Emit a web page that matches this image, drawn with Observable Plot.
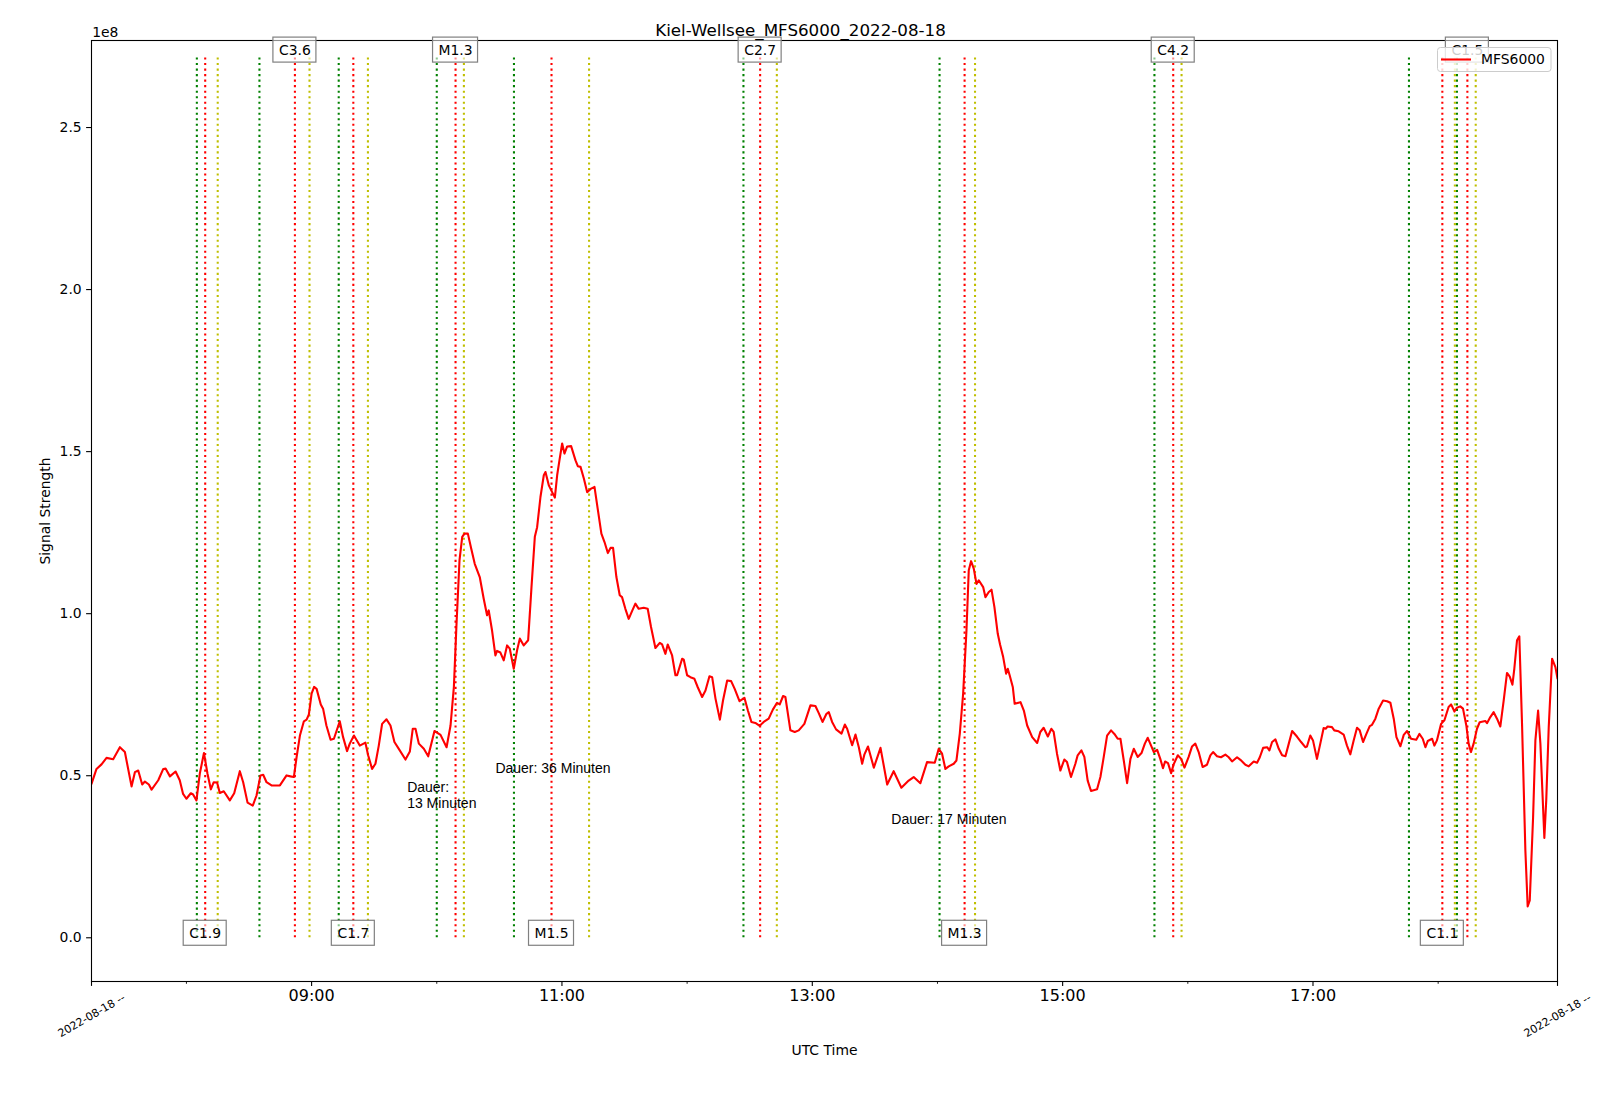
<!DOCTYPE html>
<html>
<head>
<meta charset="utf-8">
<script src="https://cdn.jsdelivr.net/npm/d3@7"></script>
<script src="https://cdn.jsdelivr.net/npm/@observablehq/plot@0.6"></script>
<style>
  html, body { margin: 0; padding: 0; background: white; }
</style>
</head>
<body>
<div id="chart"></div>
<script>
// ---- data ----
const titleText = "Kiel-Wellsee_MFS6000_2022-08-18";
const seriesName = "MFS6000";
const xLabel = "UTC Time";
const yLabel = "Signal Strength";
const dayLabel = "2022-08-18 --";

// signal: minutes after 00:00 UTC and value in units of 1e8
const signalMinutes = [
434.5,436.9,439.3,441.7,444.9,448.1,450.5,453.7,455.3,456.9,458.8,460.1,462.0,463.3,466.5,468.9,470.0,472.1,474.8,476.8,
478.4,480.0,482.1,483.2,484.8,486.4,488.4,490.1,491.7,493.1,494.7,496.0,497.9,500.8,502.9,505.6,507.2,509.3,511.8,513.6,
515.5,516.8,518.4,520.8,524.8,528.0,529.9,531.5,532.8,534.4,536.3,537.6,538.7,540.0,541.2,542.4,544.4,545.5,547.1,549.1,
550.7,553.5,555.1,557.0,558.3,560.3,563.1,565.8,567.1,569.0,570.6,572.2,573.8,575.9,577.8,579.7,581.8,585.0,587.1,588.5,
589.8,591.4,593.8,595.9,598.9,601.8,604.7,606.6,608.2,609.4,610.9,612.2,613.3,614.9,616.5,618.2,620.6,622.5,624.1,624.9,
626.5,628.1,628.9,630.5,632.1,633.7,635.0,636.9,638.5,639.8,641.7,643.8,645.4,647.0,648.1,649.7,651.3,652.1,653.7,655.3,
656.6,657.7,658.8,660.1,661.2,662.5,664.4,666.5,667.6,668.9,670.5,672.1,674.0,675.6,677.2,678.9,680.4,682.0,683.3,684.5,
686.1,687.7,688.8,690.4,692.0,693.6,695.2,696.8,699.2,701.1,702.7,704.8,706.9,708.0,709.6,710.7,712.8,714.4,715.2,717.6,
718.4,720.0,721.6,723.5,725.1,727.2,728.8,730.7,732.0,733.6,735.7,737.2,739.2,741.1,742.8,745.1,747.5,749.1,750.8,752.7,
754.8,756.7,759.1,761.1,763.1,764.4,766.0,767.1,769.5,771.6,773.5,776.2,779.1,781.5,783.1,784.9,786.8,787.9,789.5,791.4,
794.0,795.6,796.7,799.1,800.7,802.3,803.9,805.0,806.7,809.5,812.7,815.9,819.0,822.7,826.2,828.6,831.8,835.0,838.7,840.6,
842.2,843.8,845.4,847.8,849.1,850.7,852.3,853.9,855.0,856.1,857.4,858.7,859.8,861.9,863.0,864.6,865.9,867.3,868.9,870.0,
871.5,872.9,873.7,874.6,876.1,877.0,879.8,881.4,883.0,885.4,887.8,889.3,890.9,892.9,894.6,895.7,897.3,898.9,900.8,902.1,
904.0,906.1,907.2,909.0,910.4,912.0,913.6,916.5,918.1,919.7,921.3,923.2,924.8,926.4,927.7,929.3,930.9,932.5,934.1,936.0,
937.8,939.4,940.8,942.4,943.7,945.3,946.8,948.1,949.1,950.5,952.0,953.2,955.2,956.8,958.4,960.4,962.0,963.6,965.2,967.1,
969.2,970.8,972.1,974.0,975.9,978.0,979.6,981.2,983.6,985.2,987.6,989.2,991.6,993.2,994.5,996.1,998.0,999.1,1000.4,1002.0,
1003.6,1005.2,1006.8,1008.4,1010.0,1012.3,1014.3,1016.3,1017.1,1018.7,1020.0,1021.9,1023.5,1025.1,1026.2,1027.0,1029.1,1030.2,1032.3,1034.7,
1036.3,1037.9,1039.5,1041.1,1042.4,1044.0,1045.6,1047.2,1048.3,1049.9,1051.5,1053.6,1055.5,1057.1,1058.7,1060.0,1061.9,1063.5,1065.1,1067.0,
1069.5,1071.0,1072.6,1073.9,1075.0,1077.1,1078.2,1079.4,1081.4,1083.0,1085.0,1086.2,1087.8,1089.0,1090.6,1091.9,1093.5,1094.6,1095.7,1097.0,
1098.6,1099.9,1102.6,1103.4,1105.0,1106.6,1108.2,1109.8,1111.4,1113.0,1114.3,1115.6,1116.5,1117.8,1118.9,1120.2,1121.8,1122.9,1123.9,1125.5,
1126.6,1127.9,1129.0,1130.9,1131.8,1133.0,1134.6,1136.2,1137.2
];
const signalValues = [
0.475,0.521,0.535,0.555,0.551,0.588,0.573,0.467,0.511,0.516,0.473,0.482,0.473,0.457,0.486,0.521,0.522,0.498,0.513,0.486,
0.444,0.429,0.446,0.442,0.424,0.506,0.570,0.506,0.458,0.480,0.479,0.447,0.452,0.424,0.446,0.514,0.480,0.417,0.408,0.439,
0.501,0.503,0.480,0.470,0.470,0.501,0.498,0.496,0.557,0.624,0.668,0.673,0.689,0.753,0.774,0.768,0.720,0.707,0.655,0.611,
0.614,0.668,0.619,0.576,0.599,0.624,0.593,0.602,0.563,0.521,0.537,0.593,0.660,0.674,0.655,0.604,0.583,0.550,0.575,0.645,
0.645,0.599,0.583,0.560,0.638,0.626,0.588,0.655,0.774,0.959,1.165,1.237,1.247,1.247,1.201,1.154,1.113,1.046,0.995,1.010,
0.948,0.871,0.885,0.880,0.856,0.902,0.892,0.830,0.887,0.923,0.902,0.918,1.082,1.237,1.267,1.360,1.427,1.437,1.396,1.375,
1.358,1.427,1.473,1.525,1.494,1.516,1.517,1.473,1.455,1.453,1.417,1.375,1.386,1.391,1.321,1.247,1.221,1.187,1.203,1.203,
1.113,1.057,1.051,1.015,0.984,1.008,1.031,1.015,1.018,1.015,0.959,0.894,0.910,0.905,0.876,0.905,0.871,0.810,0.810,0.861,
0.858,0.810,0.804,0.799,0.773,0.743,0.763,0.807,0.804,0.738,0.673,0.732,0.794,0.792,0.768,0.730,0.740,0.702,0.666,0.663,
0.654,0.666,0.676,0.704,0.725,0.720,0.746,0.743,0.640,0.635,0.640,0.660,0.717,0.715,0.693,0.666,0.691,0.696,0.666,0.643,
0.630,0.658,0.645,0.594,0.627,0.588,0.537,0.566,0.590,0.525,0.586,0.473,0.514,0.463,0.485,0.496,0.477,0.542,0.540,0.583,
0.568,0.521,0.529,0.537,0.547,0.630,0.753,0.948,1.134,1.162,1.139,1.092,1.103,1.082,1.051,1.067,1.074,1.020,0.938,0.905,
0.866,0.815,0.830,0.810,0.774,0.722,0.727,0.701,0.655,0.619,0.601,0.635,0.648,0.621,0.645,0.635,0.568,0.516,0.550,0.542,
0.496,0.537,0.563,0.578,0.558,0.485,0.453,0.458,0.496,0.558,0.624,0.640,0.629,0.614,0.614,0.547,0.477,0.552,0.583,0.558,
0.570,0.599,0.617,0.593,0.573,0.580,0.552,0.523,0.544,0.539,0.508,0.535,0.563,0.552,0.525,0.558,0.590,0.599,0.573,0.527,
0.534,0.563,0.573,0.560,0.557,0.565,0.557,0.544,0.557,0.549,0.534,0.529,0.544,0.540,0.557,0.586,0.588,0.578,0.604,0.612,
0.583,0.563,0.560,0.599,0.638,0.621,0.604,0.588,0.590,0.624,0.609,0.552,0.599,0.647,0.645,0.652,0.650,0.640,0.637,0.627,
0.593,0.566,0.609,0.648,0.640,0.604,0.629,0.653,0.657,0.676,0.707,0.732,0.730,0.725,0.676,0.619,0.591,0.626,0.638,0.614,
0.611,0.629,0.614,0.588,0.607,0.614,0.593,0.609,0.660,0.671,0.712,0.720,0.698,0.710,0.714,0.707,0.655,0.599,0.573,0.599,
0.645,0.665,0.669,0.662,0.681,0.696,0.676,0.652,0.732,0.817,0.806,0.781,0.830,0.918,0.930,0.660,0.269,0.097,0.115,0.372,
0.609,0.701,0.599,0.308,0.424,0.650,0.861,0.835,0.800
];
const signalScale = 1e8;

// flares (GOES events): class, start, peak, end (UTC)
const flareClass = ["C1.9","C3.6","C1.7","M1.3","M1.5","C2.7","M1.3","C4.2","C1.1","C1.5"];
const flareStart = ["08:05","08:35","09:13","10:00","10:37","12:27","14:01","15:44","17:46","18:09"];
const flarePeak  = ["08:09","08:52","09:20","10:09","10:55","12:35","14:13","15:53","18:02","18:14"];
const flareEnd   = ["08:15","08:59","09:27","10:13","11:13","12:43","14:18","15:57","18:08","18:18"];
const flareLineTop = 2.716e8;
const labelTopLevel = 2.725e8;
const labelBottomLevel = 0;

// duration notes
const noteText = ["Dauer:\n13 Minuten", "Dauer: 36 Minuten", "Dauer: 17 Minuten"];
const noteTime = ["09:45.8", "10:28.1", "13:37.9"];
const noteLevel = [0.400e8, 0.508e8, 0.352e8];

// axes
const xDomainMinutes = [434.5, 1137.2];
const yDomain = [-0.1349e8, 2.7685e8];
const majorTickTimes = ["09:00","11:00","13:00","15:00","17:00"];
const minorTickTimes = ["08:00","10:00","12:00","14:00","16:00","18:00"];
const yTicks = [0, 0.5e8, 1.0e8, 1.5e8, 2.0e8, 2.5e8];

// ---- helpers ----
const DAY = Date.UTC(2022, 7, 18);
const atMin = m => new Date(DAY + m * 60000);
const atHM = s => { const [h, m] = s.split(":").map(Number); return atMin(h * 60 + m); };

const signal = signalMinutes.map((m, i) => ({t: atMin(m), v: signalValues[i] * signalScale}));
const flares = flareClass.map((c, i) => ({
  cls: c, start: atHM(flareStart[i]), peak: atHM(flarePeak[i]), end: atHM(flareEnd[i]),
  level: i % 2 === 0 ? labelBottomLevel : labelTopLevel
}));
const notes = noteText.map((s, i) => ({text: s, t: atHM(noteTime[i]), v: noteLevel[i]}));
const xDomain = xDomainMinutes.map(atMin);

const dotted = {y1: 0, y2: flareLineTop, strokeWidth: 2.08, strokeDasharray: "2.08,3.44"};

const chart = Plot.plot({
  width: 1600,
  height: 1102,
  marginLeft: 91,
  marginRight: 43,
  marginTop: 40,
  marginBottom: 121,
  style: {fontFamily: "DejaVu Sans", fontSize: "13.9px", color: "black", background: "white", overflow: "visible"},
  x: {type: "utc", domain: xDomain},
  y: {domain: yDomain},
  marks: [
    Plot.ruleX(flares, {x: "start", stroke: "#008000", ...dotted}),
    Plot.ruleX(flares, {x: "peak", stroke: "#ff0000", ...dotted}),
    Plot.ruleX(flares, {x: "end", stroke: "#bfbf00", ...dotted}),
    Plot.line(signal, {x: "t", y: "v", stroke: "#ff0000", strokeWidth: 2.1, clip: true}),
    Plot.frame({stroke: "black", strokeWidth: 1.1}),
    Plot.axisY({ticks: yTicks, tickFormat: d => (d / 1e8).toFixed(1), tickSize: 4.9, tickPadding: 4.9, label: null, strokeWidth: 1.1}),
    Plot.axisX({ticks: majorTickTimes.map(atHM), tickFormat: d3.utcFormat("%H:%M"), tickSize: 4.9, tickPadding: 3, label: null, fontSize: 16, strokeWidth: 1.1}),
    Plot.axisX({ticks: minorTickTimes.map(atHM), tickFormat: () => "", tickSize: 2.8, label: null, strokeWidth: 0.9}),
    Plot.axisX({ticks: xDomain, tickFormat: () => "", tickSize: 4.9, label: null, strokeWidth: 1.1}),
    Plot.text(xDomain, {x: d => d, frameAnchor: "bottom", dy: 34, rotate: -30, text: () => dayLabel,
      textAnchor: "middle", lineAnchor: "middle", fontSize: 11}),
    Plot.rect(flares.filter(d => d.cls[0] === "C"), {x1: "peak", x2: "peak", y1: "level", y2: "level",
      insetLeft: -21.5, insetRight: -21.5, insetTop: -17, insetBottom: -8,
      fill: "white", fillOpacity: 0.55, stroke: "#808080", strokeWidth: 1.2}),
    Plot.rect(flares.filter(d => d.cls[0] === "M"), {x1: "peak", x2: "peak", y1: "level", y2: "level",
      insetLeft: -22.5, insetRight: -22.5, insetTop: -17, insetBottom: -8,
      fill: "white", fillOpacity: 0.55, stroke: "#808080", strokeWidth: 1.2}),
    Plot.text(flares, {x: "peak", y: "level", text: "cls", lineAnchor: "bottom", fill: "black", fontSize: 13.9}),
    Plot.text(notes, {x: "t", y: "v", text: "text", textAnchor: "start", lineAnchor: "bottom",
      fontFamily: "Liberation Sans, Arial, sans-serif", fontSize: 14, lineHeight: 1.14, fill: "black"}),
    Plot.text([titleText], {frameAnchor: "top", dx: -24, dy: -5, textAnchor: "middle", lineAnchor: "bottom", fontSize: 16.7}),
    Plot.text(["1e8"], {frameAnchor: "top-left", textAnchor: "start", lineAnchor: "bottom", dx: 0.7, dy: -3.3}),
    Plot.text([xLabel], {frameAnchor: "bottom", textAnchor: "middle", lineAnchor: "bottom", dy: 73.6}),
    Plot.text([yLabel], {frameAnchor: "left", rotate: -90, dx: -46, textAnchor: "middle", lineAnchor: "middle"})
  ]
});

document.getElementById("chart").appendChild(chart);

// legend (upper right, matplotlib style)
const svg = d3.select(chart);
const lg = svg.append("g");
lg.append("rect").attr("x", 1437.5).attr("y", 47.5).attr("width", 113.5).attr("height", 24).attr("rx", 3)
  .attr("fill", "white").attr("fill-opacity", 0.8).attr("stroke", "#cccccc").attr("stroke-width", 1);
lg.append("line").attr("x1", 1441).attr("x2", 1471).attr("y1", 59.5).attr("y2", 59.5)
  .attr("stroke", "#ff0000").attr("stroke-width", 2.1);
lg.append("text").attr("x", 1481).attr("y", 59.5).attr("dy", "0.35em").attr("fill", "black")
  .attr("text-anchor", "start").style("font-size", "13.9px").text(seriesName);
</script>
</body>
</html>
